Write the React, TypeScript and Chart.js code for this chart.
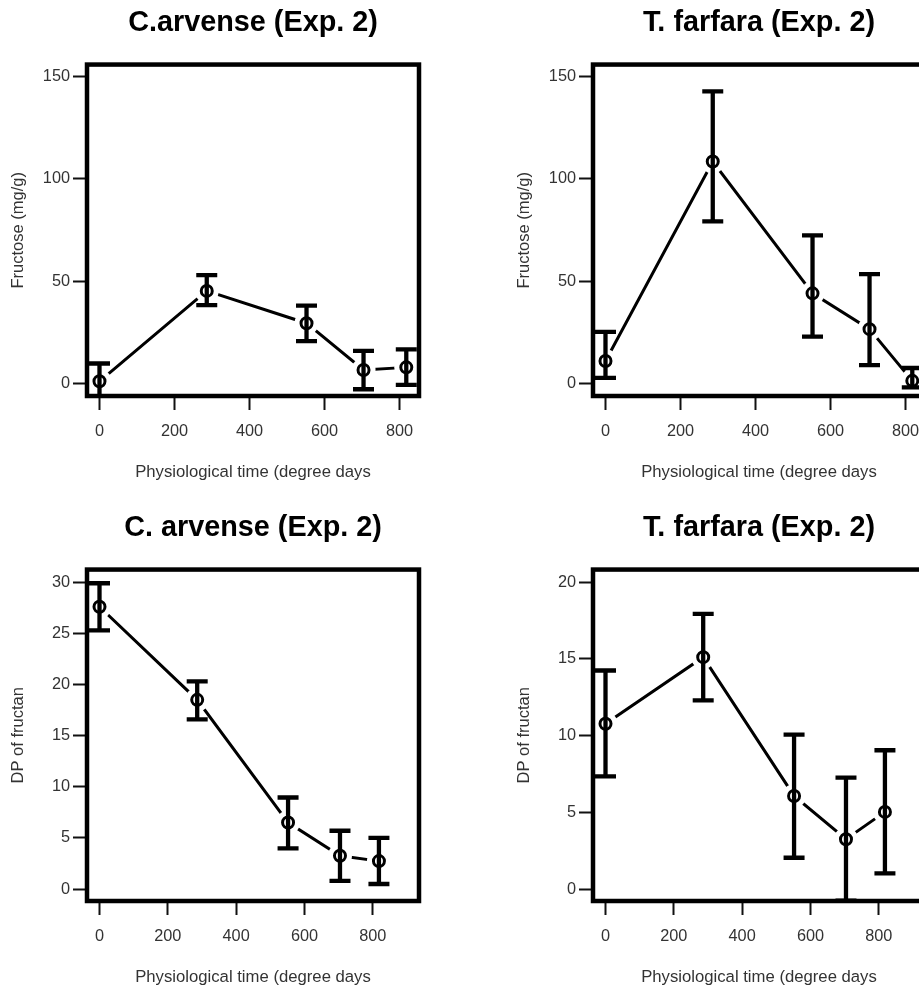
import React, { useEffect, useRef } from "react";
import { Chart, registerables } from "chart.js";

Chart.register(...registerables);

// ---- data ----
const days = [0, 286, 552, 704, 818];
const xTicks = [0, 200, 400, 600, 800];

const arvenseFructoseMean = [1, 45.2, 29.4, 6.5, 7.8];
const arvenseFructoseUpper = [9.7, 52.9, 38, 15.9, 16.6];
const arvenseFructoseLower = [-8, 38.2, 20.6, -2.9, -0.8];

const farfaraFructoseMean = [10.9, 108.5, 44, 26.5, 1.2];
const farfaraFructoseUpper = [25.2, 142.8, 72.4, 53.4, 7.5];
const farfaraFructoseLower = [2.7, 79.2, 22.8, 8.9, -2];

const arvenseDpMean = [27.6, 18.5, 6.5, 3.25, 2.73];
const arvenseDpUpper = [29.9, 20.3, 8.95, 5.7, 5.0];
const arvenseDpLower = [25.3, 16.6, 3.97, 0.8, 0.49];

const farfaraDpMean = [10.78, 15.12, 6.07, 3.25, 5.03];
const farfaraDpUpper = [14.25, 17.94, 10.07, 7.27, 9.05];
const farfaraDpLower = [7.35, 12.3, 2.04, -0.75, 1.02];

const fructoseTicks = [0, 50, 100, 150];
const arvenseDpTicks = [0, 5, 10, 15, 20, 25, 30];
const farfaraDpTicks = [0, 5, 10, 15, 20];

const xTitle = "Physiological time (degree days";
const FONT = "'Liberation Sans', Arial, Helvetica, sans-serif";

const errorBarPlugin = {
  id: "errorBars",
  afterDatasetDraw(chart: any, args: any) {
    if (args.index !== 0) return;
    const ds: any = chart.data.datasets[0];
    const xs = chart.scales.x;
    const ys = chart.scales.y;
    const area = chart.chartArea;
    const ctx = chart.ctx;
    ctx.save();
    ctx.beginPath();
    ctx.rect(area.left, area.top, area.right - area.left, area.bottom - area.top);
    ctx.clip();
    // white halos so that connecting lines stop short of the markers
    ctx.fillStyle = "#fff";
    ds.data.forEach((p: any) => {
      const px = xs.getPixelForValue(p.x);
      const py = ys.getPixelForValue(p.y);
      ctx.beginPath();
      ctx.arc(px, py, 12, 0, Math.PI * 2);
      ctx.fill();
    });
    // error bars
    ctx.strokeStyle = "#000";
    ctx.lineWidth = 4.3;
    ctx.lineCap = "butt";
    ds.data.forEach((p: any, i: number) => {
      const px = xs.getPixelForValue(p.x);
      const yTop = ys.getPixelForValue(ds.errUpper[i]);
      const yBot = ys.getPixelForValue(ds.errLower[i]);
      ctx.beginPath();
      ctx.moveTo(px, yTop);
      ctx.lineTo(px, yBot);
      ctx.moveTo(px - 10.5, yTop);
      ctx.lineTo(px + 10.5, yTop);
      ctx.moveTo(px - 10.5, yBot);
      ctx.lineTo(px + 10.5, yBot);
      ctx.stroke();
    });
    ctx.restore();
  },
  afterDatasetsDraw(chart: any) {
    const a = chart.chartArea;
    const ctx = chart.ctx;
    ctx.save();
    ctx.strokeStyle = "#000";
    ctx.lineWidth = 4.5;
    ctx.lineJoin = "miter";
    ctx.strokeRect(a.left, a.top, a.right - a.left, a.bottom - a.top);
    ctx.restore();
  },
};

type PanelProps = {
  left: number;
  top: number;
  title: string;
  yTitle: string;
  mean: number[];
  lower: number[];
  upper: number[];
  yMin: number;
  yMax: number;
  yTicks: number[];
  xMin: number;
  xMax: number;
};

function Panel(props: PanelProps) {
  const ref = useRef<HTMLCanvasElement>(null);
  useEffect(() => {
    const pts = days.map((d, i) => ({ x: d, y: props.mean[i] }));
    const gridOpts = {
      display: true,
      drawOnChartArea: false,
      drawTicks: true,
      tickLength: 14,
      tickWidth: 2,
      tickColor: "#111",
    };
    const chart = new Chart(ref.current as HTMLCanvasElement, {
      type: "line",
      data: {
        datasets: [
          {
            label: "line",
            data: pts,
            borderColor: "#000",
            borderWidth: 3,
            pointRadius: 0,
            fill: false,
            tension: 0,
            order: 1,
            errLower: props.lower,
            errUpper: props.upper,
          } as any,
          {
            label: "points",
            data: pts,
            showLine: false,
            pointRadius: 5.5,
            pointBorderWidth: 3,
            pointBorderColor: "#000",
            pointBackgroundColor: "rgba(0,0,0,0)",
            order: 0,
          } as any,
        ],
      },
      options: {
        responsive: false,
        animation: false,
        devicePixelRatio: 1,
        events: [],
        layout: { padding: { left: 0, top: 0, right: 41, bottom: 0 } },
        plugins: {
          legend: { display: false },
          tooltip: { enabled: false },
          title: {
            display: true,
            text: props.title,
            fullSize: false,
            color: "#000",
            font: { family: FONT, size: 28.8, weight: "bold" },
            padding: { top: 5.5, bottom: 24.5 },
          },
        },
        scales: {
          x: {
            type: "linear",
            position: "bottom",
            min: props.xMin,
            max: props.xMax,
            afterBuildTicks: (s: any) => {
              s.ticks = xTicks.map((v) => ({ value: v }));
            },
            afterFit: (s: any) => {
              s.height = 104;
            },
            grid: gridOpts,
            border: { display: false },
            ticks: {
              color: "#333",
              font: { family: FONT, size: 16.3 },
              padding: 12,
              maxRotation: 0,
            },
            title: {
              display: true,
              text: xTitle,
              color: "#333",
              font: { family: FONT, size: 16.7 },
              padding: { top: 0, bottom: 18 },
            },
          },
          y: {
            type: "linear",
            position: "left",
            min: props.yMin,
            max: props.yMax,
            afterBuildTicks: (s: any) => {
              s.ticks = props.yTicks.map((v) => ({ value: v }));
            },
            afterFit: (s: any) => {
              s.width = 87;
            },
            grid: gridOpts,
            border: { display: false },
            ticks: {
              color: "#333",
              font: { family: FONT, size: 16.3 },
              padding: 3,
            },
            title: {
              display: true,
              text: props.yTitle,
              color: "#333",
              font: { family: FONT, size: 16.5 },
              padding: { top: 9, bottom: 0 },
            },
          },
        },
      } as any,
      plugins: [errorBarPlugin],
    });
    return () => chart.destroy();
  }, []);
  return (
    <div
      style={{
        position: "absolute",
        left: props.left,
        top: props.top,
        width: 460,
        height: 500,
      }}
    >
      <canvas
        ref={ref}
        width={460}
        height={500}
        style={{ width: 460, height: 500, display: "block" }}
      />
    </div>
  );
}

export default function App() {
  return (
    <div
      style={{
        position: "fixed",
        left: 0,
        top: 0,
        width: 919,
        height: 989,
        overflow: "hidden",
        background: "#fff",
      }}
    >
      <Panel
        left={0}
        top={0}
        title="C.arvense (Exp. 2)"
        yTitle="Fructose (mg/g)"
        mean={arvenseFructoseMean}
        lower={arvenseFructoseLower}
        upper={arvenseFructoseUpper}
        yMin={-6.2}
        yMax={155.9}
        yTicks={fructoseTicks}
        xMin={-33.3}
        xMax={851.9}
      />
      <Panel
        left={506}
        top={0}
        title="T. farfara (Exp. 2)"
        yTitle="Fructose (mg/g)"
        mean={farfaraFructoseMean}
        lower={farfaraFructoseLower}
        upper={farfaraFructoseUpper}
        yMin={-6.2}
        yMax={155.9}
        yTicks={fructoseTicks}
        xMin={-33.3}
        xMax={851.9}
      />
      <Panel
        left={0}
        top={505}
        title="C. arvense (Exp. 2)"
        yTitle="DP of fructan"
        mean={arvenseDpMean}
        lower={arvenseDpLower}
        upper={arvenseDpUpper}
        yMin={-1.17}
        yMax={31.24}
        yTicks={arvenseDpTicks}
        xMin={-36.6}
        xMax={935.3}
      />
      <Panel
        left={506}
        top={505}
        title="T. farfara (Exp. 2)"
        yTitle="DP of fructan"
        mean={farfaraDpMean}
        lower={farfaraDpLower}
        upper={farfaraDpUpper}
        yMin={-0.78}
        yMax={20.83}
        yTicks={farfaraDpTicks}
        xMin={-36.6}
        xMax={935.3}
      />
    </div>
  );
}
